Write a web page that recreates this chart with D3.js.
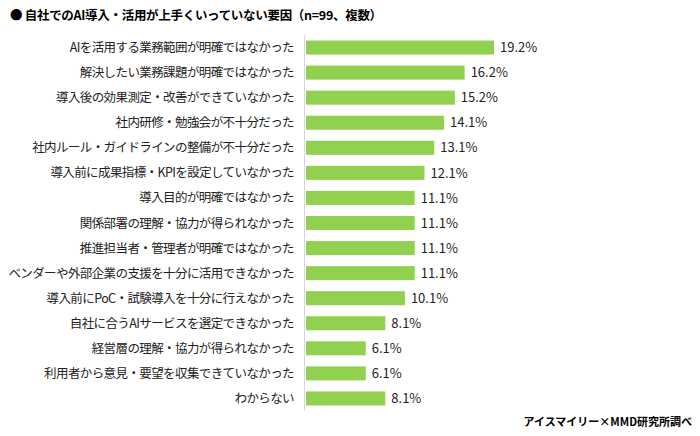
<!DOCTYPE html>
<html><head><meta charset="utf-8">
<script src="https://cdn.jsdelivr.net/npm/d3@7"></script>
<style>body{margin:0;background:#fff}text{font-family:"Noto Sans CJK JP",sans-serif}</style>
</head><body><svg id="c" width="700" height="436"></svg>
<script>
const categories = ["AIを活用する業務範囲が明確ではなかった","解決したい業務課題が明確ではなかった","導入後の効果測定・改善ができていなかった","社内研修・勉強会が不十分だった","社内ルール・ガイドラインの整備が不十分だった","導入前に成果指標・KPIを設定していなかった","導入目的が明確ではなかった","関係部署の理解・協力が得られなかった","推進担当者・管理者が明確ではなかった","ベンダーや外部企業の支援を十分に活用できなかった","導入前にPoC・試験導入を十分に行えなかった","自社に合うAIサービスを選定できなかった","経営層の理解・協力が得られなかった","利用者から意見・要望を収集できていなかった","わからない"];
const values = [19.2,16.2,15.2,14.1,13.1,12.1,11.1,11.1,11.1,11.1,10.1,8.1,6.1,6.1,8.1];

const svg = d3.select("#c");
const x = d3.scaleLinear().domain([0, 19.2]).range([306, 494]);
const y = d3.scaleBand().domain(categories).range([35, 411]).paddingInner(0.44).paddingOuter(0.22);

svg.append("text").attr("x", 10).attr("y", 20).attr("font-size", 12.5).attr("font-weight", "bold")
  .attr("letter-spacing", -0.3)
  .text("●  自社でのAI導入・活用が上手くいっていない要因（n=99、複数）");

svg.append("line").attr("x1", 304.5).attr("x2", 304.5).attr("y1", 35).attr("y2", 411)
  .attr("stroke", "#d9d9d9");

const g = svg.selectAll(".row").data(categories).join("g");
g.append("rect").attr("x", x(0)).attr("y", d => y(d)).attr("height", y.bandwidth())
  .attr("width", (d, i) => x(values[i]) - x(0)).attr("fill", "#92d050");
g.append("text").attr("x", 294).attr("y", d => y(d) + y.bandwidth() / 2).attr("dy", "0.36em")
  .attr("text-anchor", "end").attr("font-size", 12.5).attr("letter-spacing", -0.6)
  .attr("fill", "#222").text(d => d);
g.append("text").attr("x", (d, i) => x(values[i]) + 6).attr("y", d => y(d) + y.bandwidth() / 2)
  .attr("dy", "0.36em").attr("font-size", 13).attr("fill", "#222").text((d, i) => values[i].toFixed(1) + "%");

svg.append("text").attr("x", 692).attr("y", 426).attr("text-anchor", "end").attr("font-size", 11)
  .attr("font-weight", "bold").text("アイスマイリー×MMD研究所調べ");
</script></body></html>
